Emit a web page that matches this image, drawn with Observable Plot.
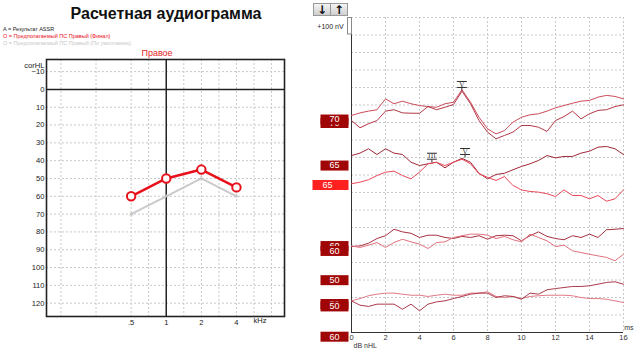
<!DOCTYPE html>
<html><head><meta charset="utf-8">
<script src="https://cdn.jsdelivr.net/npm/d3@7"></script>
<script src="https://cdn.jsdelivr.net/npm/@observablehq/plot@0.6"></script>
<style>
body{margin:0;background:#fff;font-family:"Liberation Sans",Arial,sans-serif;}
#wrap{position:relative;width:643px;height:353px;overflow:hidden;}
#left{position:absolute;left:0;top:0;width:300px;height:353px;}
#right{position:absolute;left:300px;top:0;width:343px;height:353px;}
.title{position:absolute;left:0;width:332px;top:5px;text-align:center;font-weight:bold;font-size:16px;color:#111;}
.leg{position:absolute;left:3px;font-size:5.5px;line-height:6px;white-space:nowrap;}
.side{position:absolute;left:120px;width:74px;top:48px;text-align:center;font-size:9px;color:#e52525;}
#lplot{position:absolute;left:0;top:56px;}
#rplot{position:absolute;left:0;top:0;}
.btn{position:absolute;top:3px;height:13px;width:18px;border:1px solid #999;background:linear-gradient(#f4f4f4,#cfcfcf);font-family:"DejaVu Sans",sans-serif;font-size:12px;font-weight:bold;line-height:12px;text-align:center;color:#111;box-sizing:border-box;}
</style></head>
<body><div id="wrap">
<div id="left">
  <div class="title">Расчетная аудиограмма</div>
  <div class="leg" style="top:26px;color:#222">A = Результат ASSR</div>
  <div class="leg" style="top:33px;color:#e8101a">O = Предполагаемый ПС Правый (Финал)</div>
  <div class="leg" style="top:40px;color:#c8c8c8">O = Предполагаемый ПС Правый (По умолчанию)</div>
  <div class="side">Правое</div>
  <div id="lplot"></div>
</div>
<div id="right">
  <div id="rplot"></div>
  <div class="btn" style="left:13px">↓</div>
  <div class="btn" style="left:30px">↑</div>
</div>
</div>
<script>
// ---------- Audiogram data ----------
const freqs = [0.5, 1, 2, 4];
const freqLabels = [".5", "1", "2", "4"];
const finalHL = [60, 50, 45, 55];
const defaultHL = [70, 60, 50, 60];
const gridFreqs = [0.125, 0.25, 0.5, 0.707, 1.414, 2, 2.83, 4, 5.66, 8];
const dbTicks = [-10, 0, 10, 20, 30, 40, 50, 60, 70, 80, 90, 100, 110, 120];

// ---------- ABR data (ms, nV on chart scale) ----------
const times = d3.range(33).map(i => i * 0.5);
const msTicks = [0, 2, 4, 6, 8, 10, 12, 14, 16];
const nvGrid = d3.range(0, 1801, 100);
const tr70a = [1240,1255,1265,1273,1335,1307,1322,1307,1297,1291,1287,1307,1316,1387,1316,1230,1164,1135,1154,1202,1230,1244,1250,1265,1284,1297,1310,1322,1326,1345,1355,1349,1335];
const tr70b = [1211,1170,1193,1211,1265,1273,1255,1253,1253,1291,1273,1287,1303,1379,1307,1211,1145,1107,1126,1145,1183,1183,1173,1149,1211,1234,1265,1221,1250,1269,1273,1291,1301];
const tr65a = [1011,1025,1050,1017,1050,1025,1017,973,954,964,973,941,973,995,973,910,878,903,910,930,949,964,983,1011,998,1006,1006,1025,1036,1059,1063,1050,1017];
const tr65b = [850,859,873,897,916,922,897,878,916,964,973,954,973,990,964,907,887,869,891,840,815,806,802,793,777,815,783,783,764,783,750,764,815];
const tr60a = [491,495,510,537,553,590,575,567,543,556,556,543,537,549,543,553,533,553,556,553,524,553,575,549,537,530,553,543,562,543,587,590,594];
const tr60b = [495,486,499,514,486,514,533,518,505,480,514,518,543,553,562,562,556,537,549,530,518,562,543,524,491,499,467,457,447,438,429,410,447];
const tr50a = [181,194,210,219,225,225,219,213,213,206,213,219,213,213,225,225,233,206,200,206,194,206,210,213,213,213,210,200,194,194,190,181,171];
const tr50b = [181,156,149,162,162,162,133,162,124,162,175,181,194,206,219,225,225,200,210,206,190,225,219,244,251,257,263,263,267,276,286,290,276];
const traceColors = ["#cc4c5c","#b43848","#a02838","#ea4a5a","#a83242","#e2727e","#e27a86","#ac3a4a"];
const traces = [tr70a, tr70b, tr65a, tr65b, tr60a, tr60b, tr50a, tr50b];
const levelLabels = ["70","70","65","65","60","60","50","50","50","60"];
const levelValues = [1197,1217,954,843,494,466,299,163,149,-24];
const levelKinds = ["dark","dark","dark","bright","dark","dark","dark","dark","dark","dark"];
const peakWaves = ["V","III","V"];
const peakTimes = [6.49, 4.73, 6.68];
const peakValues = [1383, 973, 1000];
const scaleTop = 1800, scaleNv = 100;

const font = "Liberation Sans, Arial, sans-serif";

// ---------- Left: audiogram ----------
const pts = freqs.map((f, i) => ({f, fin: finalHL[i], def: defaultHL[i]}));
const fmap = new Map(freqs.map((f, i) => [f, freqLabels[i]]));
const left = Plot.plot({
  width: 300, height: 297,
  marginLeft: 46, marginRight: 16, marginTop: 3, marginBottom: 37,
  style: {fontFamily: font, fontSize: "7.6px", color: "#222", background: "transparent", overflow: "visible"},
  x: {type: "log", base: 2, domain: [0.094, 10.33], ticks: freqs, tickFormat: d => fmap.get(d), tickSize: 0, tickPadding: 3, label: null},
  y: {domain: [127.5, -16.8], ticks: dbTicks, tickSize: 0, tickPadding: 2, label: null},
  marks: [
    Plot.ruleX(gridFreqs, {stroke: "#c8c8c8", strokeDasharray: "2,2"}),
    Plot.ruleY(dbTicks.filter(d => d !== 0), {stroke: "#c8c8c8", strokeDasharray: "2,2"}),
    Plot.ruleY([0], {stroke: "#222", strokeWidth: 1.5}),
    Plot.ruleX([1], {stroke: "#222", strokeWidth: 1.5}),
    Plot.frame({stroke: "#222", strokeWidth: 1.6}),
    Plot.line(pts, {x: "f", y: "def", stroke: "#cacaca", strokeWidth: 2}),
    Plot.text(pts, {x: "f", y: "def", text: () => "A", fill: "#bdbdbd", fontSize: 6}),
    Plot.line(pts, {x: "f", y: "fin", stroke: "#e8101a", strokeWidth: 2.5}),
    Plot.dot(pts, {x: "f", y: "fin", r: 4.2, stroke: "#e8101a", strokeWidth: 2, fill: "white"}),
    Plot.text(["corHL"], {text: d => d, frameAnchor: "top-left", dx: -2, dy: 3, textAnchor: "end", fontSize: 7.6, fill: "#222"}),
    Plot.text(["kHz"], {text: d => d, frameAnchor: "bottom-right", dx: -18, dy: 6, fill: "#222"})
  ]
});
document.getElementById("lplot").appendChild(left);

// ---------- Right: ABR waveforms ----------
const boxSym = (w, h) => ({draw(ctx) { ctx.rect(-w / 2, -h / 2, w, h); }});
const peakSym = {draw(ctx) {
  ctx.moveTo(-5, -3); ctx.lineTo(5, -3);
  ctx.moveTo(-5, -9); ctx.lineTo(5, -9);
  ctx.moveTo(0, -3); ctx.lineTo(0, 0);
}};
const levels = levelLabels.map((label, i) => ({label, v: levelValues[i], kind: levelKinds[i]}));
const peaks = peakWaves.map((w, i) => ({w, t: peakTimes[i], v: peakValues[i]}));

const right = Plot.plot({
  width: 343, height: 353,
  marginLeft: 51, marginRight: 20, marginTop: 17, marginBottom: 21,
  style: {fontFamily: font, fontSize: "7.5px", color: "#333", background: "transparent", overflow: "visible"},
  x: {domain: [0, 16], ticks: msTicks, tickSize: 0, tickPadding: 2, label: null},
  y: {domain: [0, 1800], axis: null},
  marks: [
    Plot.ruleX(msTicks.filter(d => d > 0), {stroke: "#c8c8c8", strokeDasharray: "2,2"}),
    Plot.ruleY(nvGrid.filter(d => d > 0), {stroke: "#c8c8c8", strokeDasharray: "2,2"}),
    Plot.ruleX([0], {stroke: "#333"}),
    Plot.ruleY([0], {stroke: "#333"}),
    ...traces.map((tr, k) => Plot.line(times, {x: d => d, y: (d, i) => tr[i], stroke: traceColors[k], strokeWidth: 1})),
    Plot.dot(peaks, {x: "t", y: "v", symbol: peakSym, stroke: "#333", fill: "none", strokeWidth: 1}),
    Plot.text(peaks, {x: "t", y: "v", text: "w", dy: -6, fontSize: 6.5, fontFamily: "DejaVu Serif, serif", fill: "#333"}),
    Plot.ruleX([{top: scaleTop, nv: scaleNv}], {x: () => 0, y1: d => d.top - d.nv, y2: d => d.top, stroke: "#8a8a8a", strokeWidth: 5, dx: -2}),
    Plot.ruleX([{top: scaleTop, nv: scaleNv}], {x: () => 0, y1: d => d.top - d.nv + 6, y2: d => d.top - 6, stroke: "white", strokeWidth: 3, dx: -2}),
    Plot.text([{top: scaleTop, nv: scaleNv}], {x: () => 0, y: d => d.top - d.nv / 2, text: d => "+" + d.nv + " nV", dx: -21, fontSize: 7, fill: "#222"}),
    ...levels.flatMap(d => {
      const bright = d.kind === "bright";
      return [
        Plot.dot([d], {x: () => 0, y: "v", symbol: boxSym(bright ? 36 : 28, 10), fill: bright ? "#ff2020" : "#a00606", stroke: "none", dx: bright ? -21 : -17}),
        Plot.text([d], {x: () => 0, y: "v", text: "label", fill: "white", fontSize: 9, dx: bright ? -24 : -17})
      ];
    }),
    Plot.text(["dB nHL"], {text: d => d, frameAnchor: "bottom-left", dx: 2, dy: 15, textAnchor: "start", fontSize: 7, fill: "#333"}),
    Plot.text(["ms"], {text: d => d, frameAnchor: "bottom-right", dx: 10, dy: -3, fontSize: 7, fill: "#333"})
  ]
});
document.getElementById("rplot").appendChild(right);
</script>
</body></html>
